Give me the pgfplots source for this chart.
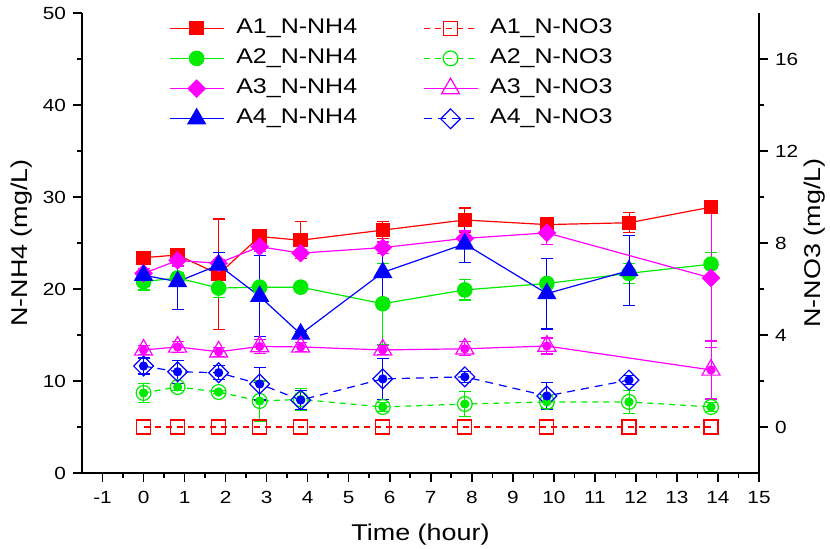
\documentclass[border=0pt]{standalone}
\usepackage{pgfplots}
\pgfplotsset{compat=1.18}
\usepackage{fontspec}
\setmainfont{Liberation Sans}[FakeStretch=1.18]
\definecolor{cR}{RGB}{255,0,0}
\definecolor{cG}{RGB}{0,235,0}
\definecolor{cM}{RGB}{255,0,255}
\definecolor{cB}{RGB}{0,0,255}
\pgfplotsset{
  eb/.style={only marks, mark=none, forget plot, line width=0.6pt,
    error bars/.cd, y dir=both, y explicit,
    error mark options={rotate=90, mark size=3pt, line width=0.6pt, solid}},
  base/.style={
    at={(0,0)}, anchor=south west,
    scale only axis, width=338.5pt, height=230pt,
    xmin=-1.5, xmax=15,
    tick align=outside, major tick length=4.5pt, minor tick length=2.5pt,
    tick style={line width=0.8pt, black},
    axis line style={-, line width=1pt},
    tick label style={font=\fontsize{8.8}{10}\selectfont},
    /pgf/number format/assume math mode=true,
    label style={font=\fontsize{11.4}{13}\selectfont},
    legend cell align=left,
    legend style={draw=none, fill=none, inner sep=0pt, anchor=north west,
      font=\fontsize{10.6}{12}\selectfont,
      nodes={inner sep=2pt, text height=8pt, text depth=2.8pt},
      /tikz/every odd column/.append style={column sep=4pt},
      row sep=0.3pt},
    legend image code/.code={\draw[mark repeat=2,mark phase=2,#1] plot coordinates {(0pt,0pt) (13.5pt,0pt) (27pt,0pt)};},
  },
}
\begin{document}
\begin{tikzpicture}
\useasboundingbox (-41pt,-38pt) rectangle (374pt,236.5pt);
\begin{axis}[base,
  ymin=0, ymax=50,
  axis x line*=bottom, axis y line*=left,
  xtick={-1,0,...,15}, minor x tick num=1,
  ytick={0,10,...,50}, minor y tick num=1,
  xticklabel style={yshift=-1pt},
  xlabel={Time (hour)}, ylabel={N-NH4 (mg/L)},
  xlabel style={at={(axis description cs:0.5,-0.1348)}, anchor=center},
  ylabel style={at={(axis description cs:-0.0886,0.5)}, anchor=center},
  legend style={at={(axis description cs:0.128,1.0)}},
]
% error bars (drawn below markers)
\addplot[cR, eb] coordinates {(0,23.4) +- (0,0.5) (0.83,23.7) +- (0,0.4) (1.83,21.6) +- (0,6.0) (2.83,25.7) +- (0,0.4) (3.83,25.3) +- (0,2.0) (5.83,26.4) +- (0,0.9) (7.83,27.5) +- (0,1.3) (9.83,27.0) +- (0,0.4) (11.83,27.2) +- (0,1.1) (13.83,28.9) +- (0,0.3)};
\addplot[cG, eb] coordinates {(0,20.8) +- (0,0.9) (0.83,21.2) +- (0,0.6) (1.83,20.1) +- (0,1.0) (2.83,20.2) +- (0,0.3) (3.83,20.2) +- (0,0.3) (5.83,18.4) +- (0,4.4) (7.83,19.9) +- (0,1.1) (9.83,20.6) +- (0,0.5) (11.83,21.7) +- (0,1.1) (13.83,22.7) +- (0,1.3)};
\addplot[cM, eb] coordinates {(0,21.7) +- (0,0.5) (0.83,23.1) +- (0,0.6) (1.83,22.8) +- (0,0.4) (2.83,24.6) +- (0,0.5) (3.83,23.9) +- (0,0.4) (5.83,24.5) +- (0,0.6) (7.83,25.5) +- (0,0.8) (9.83,26.1) +- (0,1.3) (13.83,21.2) +- (0,7.6)};
\addplot[cB, eb] coordinates {(0,21.5) +- (0,1.2) (0.83,20.8) +- (0,3.0) (1.83,22.6) +- (0,1.4) (2.83,19.2) +- (0,4.4) (3.83,15.1) +- (0,0.3) (5.83,21.8) +- (0,2.8) (7.83,24.9) +- (0,2.0) (9.83,19.5) +- (0,3.85) (11.83,22.0) +- (0,3.8)};
% series
\addplot[cR, line width=0.6pt, mark=square*, mark size=3.3pt, mark options={fill=cR}] coordinates {(0,23.4) (0.83,23.7) (1.83,21.6) (2.83,25.7) (3.83,25.3) (5.83,26.4) (7.83,27.5) (9.83,27.0) (11.83,27.2) (13.83,28.9)};
\addlegendentry{A1\_N-NH4}
\addplot[cG, line width=0.6pt, mark=*, mark size=3.6pt, mark options={fill=cG}] coordinates {(0,20.8) (0.83,21.2) (1.83,20.1) (2.83,20.2) (3.83,20.2) (5.83,18.4) (7.83,19.9) (9.83,20.6) (11.83,21.7) (13.83,22.7)};
\addlegendentry{A2\_N-NH4}
\addplot[cM, line width=0.6pt, mark=square*, mark size=3.0pt, mark options={fill=cM, rotate=45}] coordinates {(0,21.7) (0.83,23.1) (1.83,22.8) (2.83,24.6) (3.83,23.9) (5.83,24.5) (7.83,25.5) (9.83,26.1) (13.83,21.2)};
\addlegendentry{A3\_N-NH4}
\addplot[cB, line width=0.6pt, mark=triangle*, mark size=5pt, mark options={fill=cB}] coordinates {(0,21.5) (0.83,20.8) (1.83,22.6) (2.83,19.2) (3.83,15.1) (5.83,21.8) (7.83,24.9) (9.83,19.5) (11.83,22.0)};
\addlegendentry{A4\_N-NH4}
\end{axis}
\begin{axis}[base,
  ymin=-2, ymax=18,
  axis x line=none, axis y line*=right,
  ytick={0,4,...,16}, minor y tick num=1,
  ylabel={N-NO3 (mg/L)},
  ylabel style={at={(axis description cs:1.0827,0.5)}, anchor=center},
  legend style={at={(axis description cs:0.503,1.0)}},
]
\addplot[cR, line width=0.6pt, dash pattern=on 3pt off 2.5pt, mark=square, mark size=3.5pt, mark options={solid, fill=white}] coordinates {(0,0) (0.83,0) (1.83,0) (2.83,0) (3.83,0) (5.83,0) (7.83,0) (9.83,0) (11.83,0) (13.83,0)};
\addlegendentry{A1\_N-NO3}
\addplot[cG, line width=0.6pt, dash pattern=on 3pt off 2.5pt, mark=o, mark size=3.7pt, mark options={solid, fill=white}] coordinates {(0,1.48) (0.83,1.74) (1.83,1.52) (2.83,1.13) (3.83,1.2) (5.83,0.87) (7.83,1.0) (9.83,1.09) (11.83,1.09) (13.83,0.87)};
\addlegendentry{A2\_N-NO3}
\addplot[cM, line width=0.6pt, mark=triangle, mark size=5.2pt, mark options={solid, fill=white}] coordinates {(0,3.35) (0.83,3.48) (1.83,3.27) (2.83,3.5) (3.83,3.48) (5.83,3.35) (7.83,3.4) (9.83,3.52) (13.83,2.48)};
\addlegendentry{A3\_N-NO3}
\addplot[cB, line width=0.6pt, dash pattern=on 4pt off 3pt, mark=square, mark size=3.5pt, mark options={solid, fill=white, rotate=45}] coordinates {(0,2.65) (0.83,2.4) (1.83,2.36) (2.83,1.87) (3.83,1.17) (5.83,2.09) (7.83,2.18) (9.83,1.35) (11.83,2.04)};
\addlegendentry{A4\_N-NO3}
\addplot[cG, eb] coordinates {(0,1.48) +- (0,0.41) (0.83,1.74) +- (0,0.15) (1.83,1.52) +- (0,0.05) (2.83,1.13) +- (0,0.87) (3.83,1.2) +- (0,0.48) (5.83,0.87) +- (0,0.2) (7.83,1.0) +- (0,0.54) (9.83,1.09) +- (0,0.3) (11.83,1.09) +- (0,0.5) (13.83,0.87) +- (0,0.2)};
\addplot[cM, eb] coordinates {(0,3.35) +- (0,0.2) (0.83,3.48) +- (0,0.25) (1.83,3.27) +- (0,0.2) (2.83,3.5) +- (0,0.3) (3.83,3.48) +- (0,0.2) (5.83,3.35) +- (0,0.2) (7.83,3.4) +- (0,0.3) (9.83,3.52) +- (0,0.35) (13.83,2.48) +- (0,1.26)};
\addplot[cB, eb] coordinates {(0,2.65) +- (0,0.35) (0.83,2.4) +- (0,0.5) (1.83,2.36) +- (0,0.3) (2.83,1.87) +- (0,0.7) (3.83,1.17) +- (0,0.4) (5.83,2.09) +- (0,0.9) (7.83,2.18) +- (0,0.25) (9.83,1.35) +- (0,0.6) (11.83,2.04) +- (0,0.2)};
\end{axis}
\end{tikzpicture}
\end{document}
